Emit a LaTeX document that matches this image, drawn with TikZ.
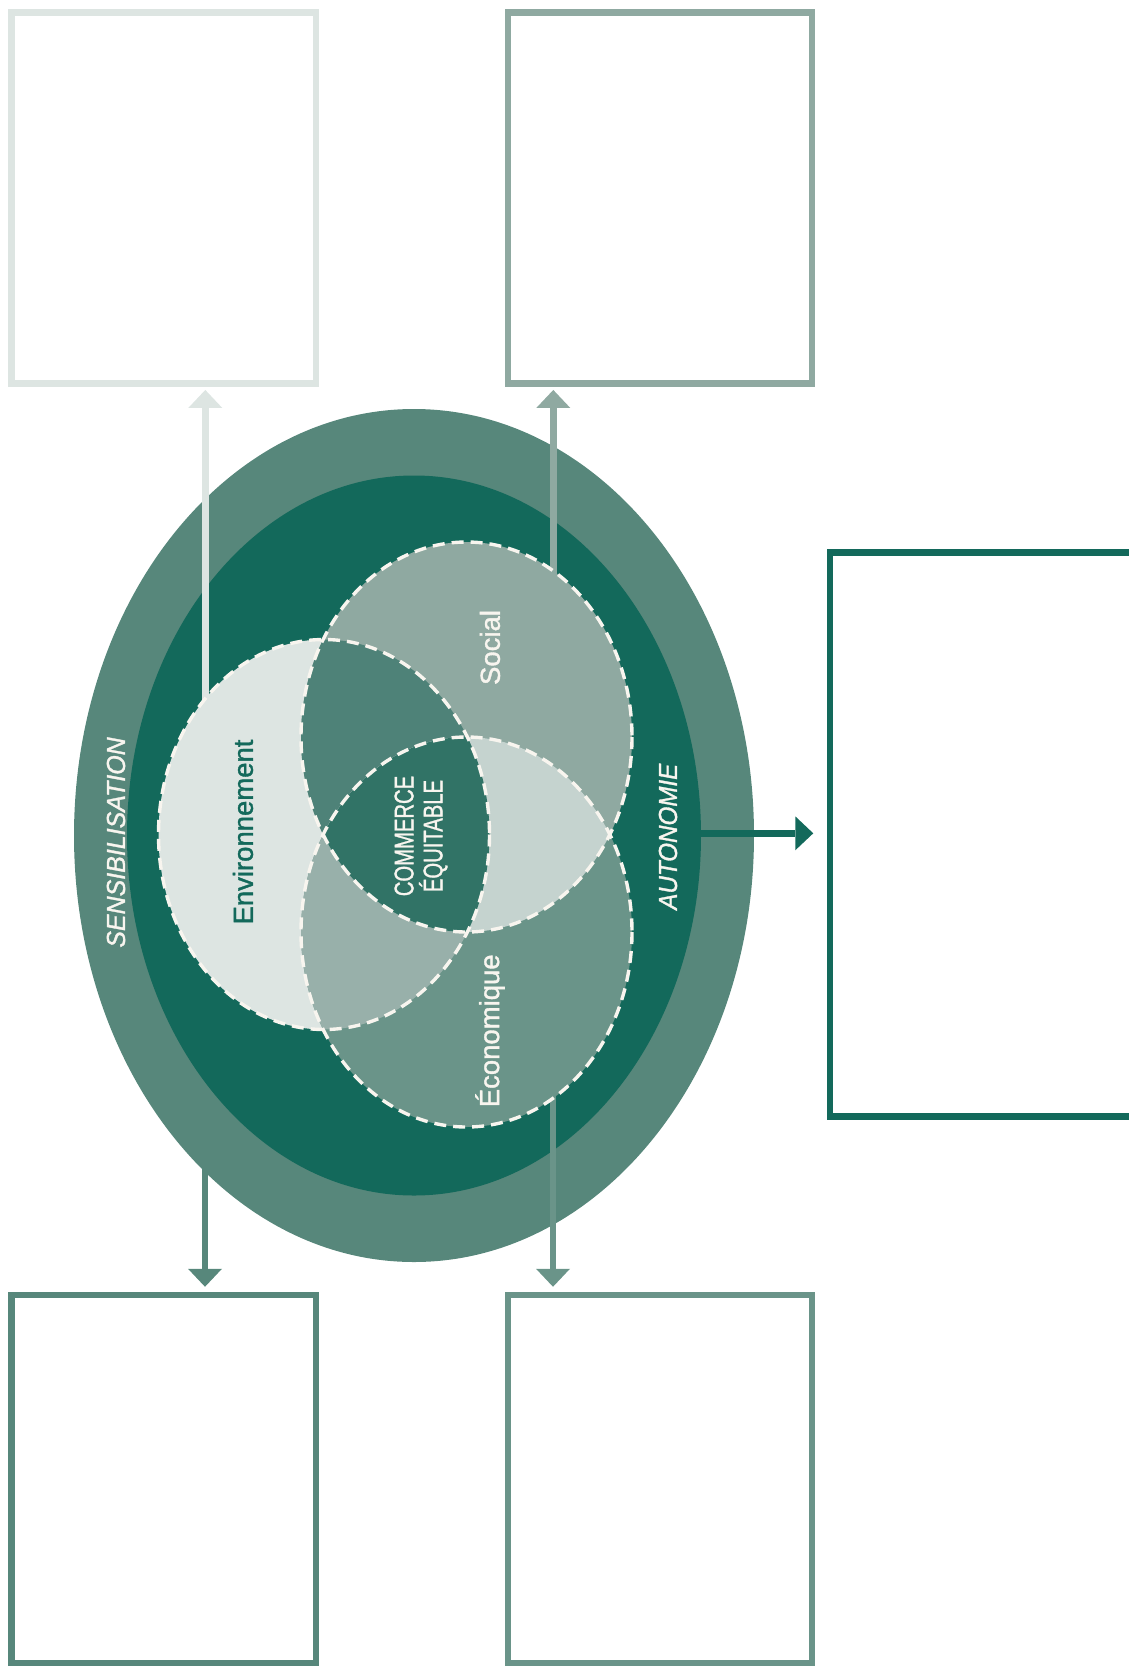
\documentclass[tikz,border=0pt]{standalone}
\usepackage{fontspec}
\setmainfont[FakeBold=1.3]{Liberation Sans}
\usepackage{graphicx}
\usetikzlibrary{arrows.meta}
\definecolor{ringc}{HTML}{57877B}
\definecolor{innerc}{HTML}{13695B}
\definecolor{envcol}{HTML}{DDE5E2}
\definecolor{soccol}{HTML}{8FA9A1}
\definecolor{ecocol}{HTML}{6A9489}
\definecolor{envsoc}{HTML}{4E8278}
\definecolor{enveco}{HTML}{98B0AA}
\definecolor{soceco}{HTML}{C5D3CF}
\definecolor{allc}{HTML}{317366}
\definecolor{dashw}{HTML}{F8F5EF}
\begin{document}
\begin{tikzpicture}[x=1pt,y=-1pt,
  box/.style={draw=#1, line width=6.5pt, minimum width=304.3pt, minimum height=371.2pt, inner sep=0pt},
  conn/.style={draw=#1, line width=6.5pt, -{Triangle[width=34pt,length=18pt,line width=0pt]}},
  vennline/.style={draw=dashw, line width=3.4pt, dash pattern=on 12pt off 7pt},
  lbl/.style={rotate=90, inner sep=0pt, text=dashw, font=\fontsize{27.5}{30}\selectfont},
  ringlbl/.style={rotate=90, inner sep=0pt, text=dashw, font=\fontsize{26}{28}\selectfont\itshape},
  ell/.style={x radius=165.5, y radius=195}
]
\useasboundingbox (0,0) rectangle (1128,1666);

% boxes
\node[box=envcol] (tl) at (163.85,198.1) {};
\node[box=soccol, minimum width=304pt] (tm) at (660,198.1) {};
\node[box=innerc, minimum width=320pt, minimum height=564pt] (rb) at (990,834.3) {};
\node[box=ringc, minimum height=368pt] (bl) at (163.85,1479) {};
\node[box=ecocol, minimum width=304pt, minimum height=368pt] (bm) at (660,1479) {};

% centres
\coordinate (core) at (414,835.5);
\coordinate (cEnv) at (324,834.5);
\coordinate (cSoc) at (466.5,737);
\coordinate (cEco) at (466.5,932);

% arrow start points
\coordinate (aBL) at (205,1000);
\coordinate (aTL) at (205.3,760);
\coordinate (aTM) at (553.3,640);
\coordinate (aBM) at (553,1030);
\coordinate (aR) at (600,833.3);

% arrow under the rings
\draw[conn=ringc, shorten >=5pt] (aBL) -- (aBL |- bl.north);

% rings
\fill[ringc] (core) ellipse [x radius=340, y radius=426.5];
\fill[innerc] (core) ellipse [x radius=287, y radius=360];

% arrows over the rings
\draw[conn=envcol, shorten >=3pt] (aTL) -- (aTL |- tl.south);
\draw[conn=soccol, shorten >=3pt] (aTM) -- (aTM |- tm.south);
\draw[conn=ecocol, shorten >=5pt] (aBM) -- (aBM |- bm.north);
\draw[conn=innerc, shorten >=13.5pt] (aR) -- (aR -| rb.west);

% venn fills
\fill[envcol] (cEnv) ellipse [ell];
\fill[soccol] (cSoc) ellipse [ell];
\fill[ecocol] (cEco) ellipse [ell];
\begin{scope}
  \clip (cEnv) ellipse [ell];
  \fill[envsoc] (cSoc) ellipse [ell];
  \fill[enveco] (cEco) ellipse [ell];
\end{scope}
\begin{scope}
  \clip (cSoc) ellipse [ell];
  \fill[soceco] (cEco) ellipse [ell];
\end{scope}
\begin{scope}
  \clip (cEnv) ellipse [ell];
  \clip (cSoc) ellipse [ell];
  \fill[allc] (cEco) ellipse [ell];
\end{scope}

% dashed outlines
\draw[vennline] (cEnv) ellipse [ell];
\draw[vennline] (cSoc) ellipse [ell];
\draw[vennline] (cEco) ellipse [ell];

% labels
\node[lbl] (social) at (490,647.5) {Social};
\node[lbl] (econ) at (490,1030.8) {Économique};
\node[lbl, text=innerc] (envir) at (243,832) {Environnement};
\node[lbl, align=center, font=\fontsize{27}{29}\selectfont] (fair) at (421,836)
  {\scalebox{0.75}[1]{COMMERCE}\\\scalebox{0.75}[1]{ÉQUITABLE}};
\node[ringlbl] (sens) at (116,842.5) {\scalebox{0.96}[1]{SENSIBILISATION}};
\node[ringlbl] (auto) at (668,836.7) {\scalebox{0.93}[1]{AUTONOMIE}};
\end{tikzpicture}
\end{document}
